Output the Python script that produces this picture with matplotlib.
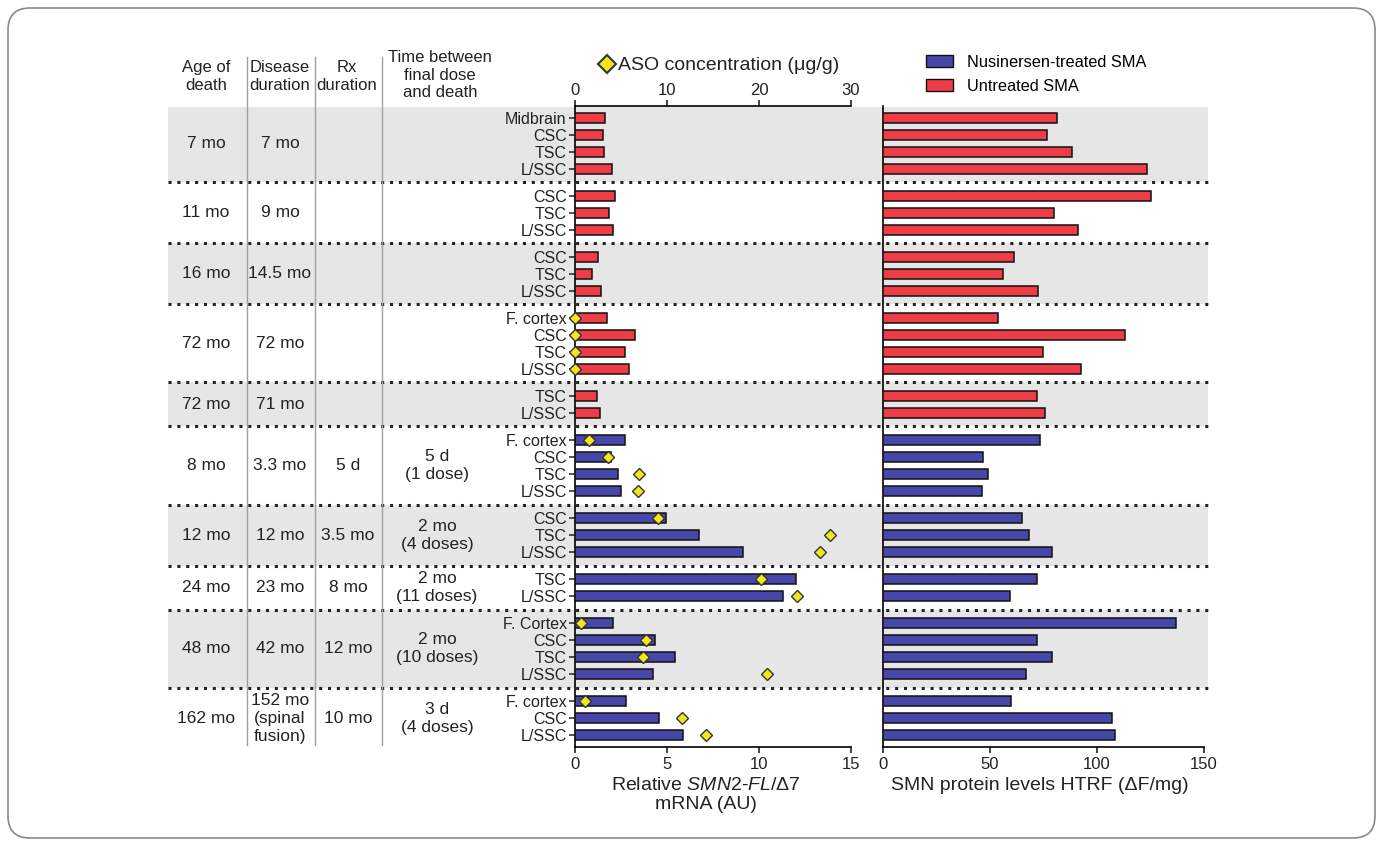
import numpy as np
import matplotlib.pyplot as plt
from matplotlib.patches import Patch, FancyBboxPatch
from matplotlib.lines import Line2D
from matplotlib.transforms import IdentityTransform

plt.rcParams['font.family'] = ['Liberation Sans', 'DejaVu Sans']
plt.rcParams['mathtext.fontset'] = 'custom'
plt.rcParams['mathtext.rm'] = 'Liberation Sans'
plt.rcParams['mathtext.it'] = 'Liberation Sans:italic'

# one entry per patient, top to bottom
age_death = ['7 mo', '11 mo', '16 mo', '72 mo', '72 mo', '8 mo', '12 mo', '24 mo', '48 mo', '162 mo']
disease_dur = ['7 mo', '9 mo', '14.5 mo', '72 mo', '71 mo', '3.3 mo', '12 mo', '23 mo', '42 mo',
               '152 mo\n(spinal\nfusion)']
rx_dur = ['', '', '', '', '', '5 d', '3.5 mo', '8 mo', '12 mo', '10 mo']
final_dose = ['', '', '', '', '', '5 d\n(1 dose)', '2 mo\n(4 doses)', '2 mo\n(11 doses)',
              '2 mo\n(10 doses)', '3 d\n(4 doses)']
treated = [False, False, False, False, False, True, True, True, True, True]

tissues = [
    ['Midbrain', 'CSC', 'TSC', 'L/SSC'],
    ['CSC', 'TSC', 'L/SSC'],
    ['CSC', 'TSC', 'L/SSC'],
    ['F. cortex', 'CSC', 'TSC', 'L/SSC'],
    ['TSC', 'L/SSC'],
    ['F. cortex', 'CSC', 'TSC', 'L/SSC'],
    ['CSC', 'TSC', 'L/SSC'],
    ['TSC', 'L/SSC'],
    ['F. Cortex', 'CSC', 'TSC', 'L/SSC'],
    ['F. cortex', 'CSC', 'L/SSC'],
]
# relative SMN2-FL/d7 mRNA (AU)
mrna = [
    [1.64, 1.54, 1.56, 2.02],
    [2.19, 1.87, 2.07],
    [1.26, 0.93, 1.44],
    [1.76, 3.28, 2.72, 2.95],
    [1.21, 1.34],
    [2.70, 1.97, 2.32, 2.52],
    [4.92, 6.76, 9.15],
    [12.02, 11.29],
    [2.09, 4.36, 5.42, 4.23],
    [2.77, 4.54, 5.87],
]
# ASO concentration (ug/g), nan = not measured
nan = np.nan
aso = [
    [nan, nan, nan, nan],
    [nan, nan, nan],
    [nan, nan, nan],
    [0.0, 0.0, 0.0, 0.0],
    [nan, nan],
    [1.5, 3.6, 7.0, 6.8],
    [9.0, 27.7, 26.6],
    [20.2, 24.1],
    [0.7, 7.7, 7.4, 20.9],
    [1.1, 11.6, 14.2],
]
# SMN protein HTRF (dF/mg)
smn = [
    [81.5, 76.5, 88.5, 123.5],
    [125.4, 79.9, 91.0],
    [61.4, 56.2, 72.6],
    [53.7, 113.2, 74.6, 92.5],
    [72.0, 75.7],
    [73.2, 46.6, 48.9, 46.1],
    [65.0, 68.1, 79.1],
    [72.1, 59.2],
    [137.1, 72.1, 79.1, 67.0],
    [59.8, 107.0, 108.4],
]

RED = '#ee3d46'
BLUE = '#4547a9'
TXT = '#222222'
W, H = 1383, 846

# row positions: one unit per row, extra 0.6 between patients
ypos, group_rows = [], []
y = 0.0
for g, t in enumerate(tissues):
    rows = []
    for _ in t:
        rows.append(y)
        y += 1
    y += 0.6
    group_rows.append(rows)
    ypos += rows
ytop, ybot = -0.7, ypos[-1] + 0.7

fig = plt.figure(figsize=(W / 100, H / 100), dpi=100)
ax_b = 1 - 747 / H
ax_h = (747 - 106) / H

# background axes spanning the full width for bands, dotted lines and table
bg = fig.add_axes([0, ax_b, 1, ax_h], zorder=0)
bg.set_xlim(0, W)
bg.set_ylim(ybot, ytop)
bg.axis('off')

mid = fig.add_axes([575 / W, ax_b, (851 - 575) / W, ax_h], zorder=2)
right = fig.add_axes([883 / W, ax_b, (1204 - 883) / W, ax_h], zorder=2)
for a in (mid, right):
    a.patch.set_visible(False)
    a.set_ylim(ybot, ytop)

for g, rows in enumerate(group_rows):
    top = max(rows[0] - 0.8, ytop + 0.05)
    bottom = rows[-1] + 0.8
    if g % 2 == 0:
        bg.axhspan(bottom, top, xmin=168 / W, xmax=1208 / W, color='#e6e6e6', lw=0, zorder=0)
    if g < len(group_rows) - 1:
        bg.plot([168, 1208], [bottom, bottom], color='#222222', lw=2.2,
                linestyle=(0, (1.0, 1.9)), zorder=1)
    yc = (rows[0] + rows[-1]) / 2
    kw = dict(ha='center', va='center', fontsize=12.5, color=TXT, linespacing=1.25)
    bg.text(206, yc, age_death[g], **kw)
    bg.text(280, yc, disease_dur[g], **kw)
    bg.text(348, yc, rx_dur[g], **kw)
    bg.text(437, yc, final_dose[g], **kw)

    col = BLUE if treated[g] else RED
    mid.barh(rows, mrna[g], height=0.6, color=col, edgecolor='#111111', lw=1.1, zorder=3)
    right.barh(rows, smn[g], height=0.6, color=col, edgecolor='#111111', lw=1.1, zorder=3)

# ASO concentration on a twin top axis
top_ax = mid.twiny()
top_ax.set_xlim(0, 30)
for g, rows in enumerate(group_rows):
    top_ax.plot(aso[g], rows, linestyle='none', marker='D', markersize=6,
                markerfacecolor='#f2e61c', markeredgecolor='#333333', markeredgewidth=1.0,
                zorder=5, clip_on=False)
top_ax.set_xticks([0, 10, 20, 30])
top_ax.tick_params(axis='x', labelsize=12, length=4, width=1.2, pad=2, colors=TXT)
for s in ['right', 'left', 'bottom']:
    top_ax.spines[s].set_visible(False)
top_ax.spines['top'].set_linewidth(1.2)

labels = [t for grp in tissues for t in grp]
mid.set_yticks(ypos)
mid.set_yticklabels(labels)
mid.tick_params(axis='y', labelsize=11.5, length=4, width=1.1, pad=2, colors=TXT)
mid.set_xlim(0, 15)
mid.set_xticks([0, 5, 10, 15])
mid.tick_params(axis='x', labelsize=12, length=4, width=1.2, pad=3, colors=TXT)
mid.spines['top'].set_visible(False)
mid.spines['right'].set_visible(False)
mid.spines['left'].set_linewidth(1.2)
mid.spines['bottom'].set_linewidth(1.2)
mid.set_xlabel('Relative $\\mathit{SMN2}$-$\\mathit{FL/\\Delta7}$\nmRNA (AU)',
               fontsize=14, color=TXT, linespacing=1.15)
mid.xaxis.set_label_coords(0.475, -0.047)
mid.xaxis.label.set_va('top')

right.set_xlim(0, 150)
right.set_xticks([0, 50, 100, 150])
right.set_yticks([])
right.tick_params(axis='x', labelsize=12, length=4, width=1.2, pad=3, colors=TXT)
right.spines['top'].set_visible(False)
right.spines['right'].set_visible(False)
right.spines['left'].set_linewidth(1.2)
right.spines['bottom'].set_linewidth(1.2)
right.set_xlabel('SMN protein levels HTRF (\u0394F/mg)', fontsize=14, color=TXT)
right.xaxis.set_label_coords(0.49, -0.047)
right.xaxis.label.set_va('top')

# table header and column rules
hk = dict(ha='center', va='center', fontsize=12, color=TXT, linespacing=1.2)
fig.text(206 / W, 1 - 76.5 / H, 'Age of\ndeath', **hk)
fig.text(280 / W, 1 - 76.5 / H, 'Disease\nduration', **hk)
fig.text(347 / W, 1 - 76.5 / H, 'Rx\nduration', **hk)
fig.text(440 / W, 1 - 75 / H, 'Time between\nfinal dose\nand death', **hk)
for x in (247, 315, 382):
    fig.add_artist(Line2D([x / W, x / W], [1 - 57 / H, 1 - 745 / H],
                          transform=fig.transFigure, color='#a0a0a0', lw=1))

# ASO title with diamond
fig.add_artist(Line2D([607 / W], [1 - 64 / H], transform=fig.transFigure, marker='D',
                      markersize=9, markerfacecolor='#f2e61c', markeredgecolor='#333333',
                      markeredgewidth=1.5, linestyle='none'))
fig.text(618 / W, 1 - 65 / H, 'ASO concentration (\u03bcg/g)', ha='left', va='center',
         fontsize=14, color=TXT)

handles = [Patch(facecolor=BLUE, edgecolor='#111111', label='Nusinersen-treated SMA'),
           Patch(facecolor=RED, edgecolor='#111111', label='Untreated SMA')]
fig.legend(handles=handles, loc='upper left', bbox_to_anchor=(926 / W, 1 - 55 / H),
           frameon=False, fontsize=11.8, handlelength=1.65, handleheight=0.75,
           labelspacing=0.55, handletextpad=0.85, borderaxespad=0, borderpad=0)

# rounded outer frame
fig.add_artist(FancyBboxPatch((8, 8), W - 16, H - 16, boxstyle='round,pad=0,rounding_size=22',
                              transform=IdentityTransform(), fill=False,
                              edgecolor='#8a8a8a', lw=1.2))

fig.savefig('out.png', dpi=100)
